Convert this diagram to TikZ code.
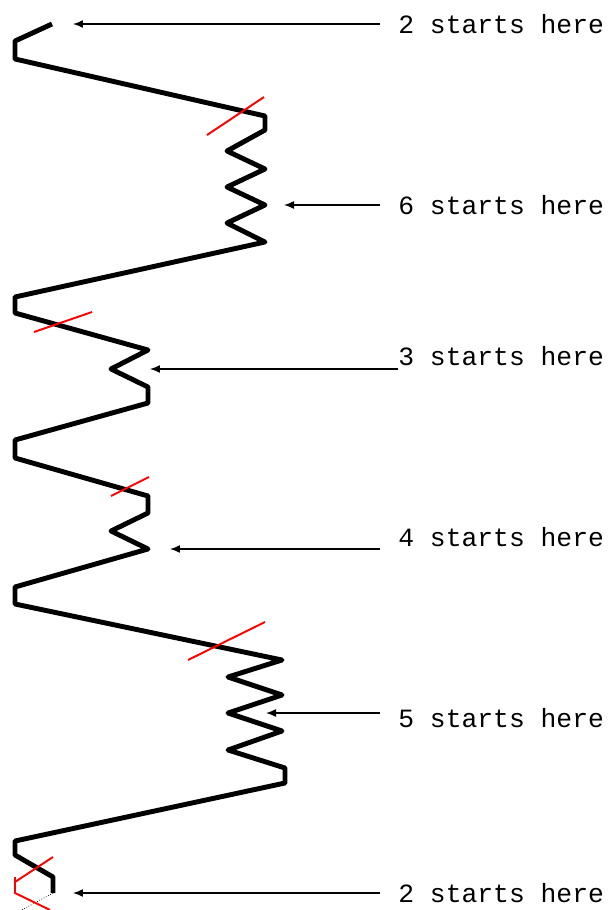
\documentclass[tikz,border=0pt]{standalone}
\usepackage{fontspec}
\newfontfamily\labelfont{Liberation Mono}
\usetikzlibrary{arrows.meta}

\begin{document}
\begin{tikzpicture}[x=0.02cm, y=-0.02cm, >={Latex[length=2mm, width=1.6mm]}, every node/.style={font=\labelfont\fontsize{15}{18}\selectfont}]
  \useasboundingbox (0,0) rectangle (610,910);
  \tikzset{wire/.style={line width=2.8pt, line join=round}, cut/.style={red, line width=1.1pt},
    lbl/.style={anchor=west, inner xsep=0.36cm, inner ysep=0pt}, pointer/.style={->, line width=0.8pt}}
  % labels on the right
  \node[lbl] (lbl2a) at (380,24) {2 starts here};
  \node[lbl] (lbl6) at (380,205) {6 starts here};
  \node[lbl] (lbl3) at (380,356) {3 starts here};
  \node[lbl] (lbl4) at (380,537) {4 starts here};
  \node[lbl] (lbl5) at (380,718) {5 starts here};
  \node[lbl] (lbl2b) at (380,893) {2 starts here};
  \coordinate (tip2a) at (73,24);
  \coordinate (tip6) at (284,205);
  \coordinate (tip3) at (150,369);
  \coordinate (tip4) at (170,549);
  \coordinate (tip5) at (266,713);
  \coordinate (tip2b) at (73,893);
  % the wire
  \draw[wire] (52,24) -- (15,41) -- (15,59) -- (265,116) -- (265,130)
    -- (227,151) -- (265,169) -- (227,187) -- (265,205) -- (227,223) -- (265,242)
    -- (15,297) -- (15,313) -- (148,350) -- (111,369) -- (148,387) -- (148,403)
    -- (15,440) -- (15,458) -- (148,496) -- (148,513) -- (111,531) -- (148,549)
    -- (15,587) -- (15,604) -- (282,660) -- (228,677) -- (282,695) -- (228,713)
    -- (282,731) -- (228,750) -- (285,768) -- (285,783)
    -- (15,841) -- (15,855) -- (53,877) -- (53,893);
  \draw[densely dotted, line width=0.4pt] (53,893) -- (18,912);
  % cut marks
  \draw[cut] (207,135) -- (264,97);
  \draw[cut] (34,332) -- (92,312);
  \draw[cut] (111,496) -- (149,477);
  \draw[cut] (188,660) -- (265,622);
  \draw[cut] (53,857) -- (15,882);
  \draw[cut] (15,877) -- (15,893) -- (50,910);
  % arrows
  \draw[pointer] (lbl2a.west) -- (tip2a);
  \draw[pointer] (lbl6.west) -- (tip6);
  \draw[pointer] (lbl3.west |- tip3) ++(18,0) -- (tip3);
  \draw[pointer] (lbl4.west |- tip4) -- (tip4);
  \draw[pointer] (lbl5.west |- tip5) -- (tip5);
  \draw[pointer] (lbl2b.west) -- (tip2b);
\end{tikzpicture}
\end{document}
